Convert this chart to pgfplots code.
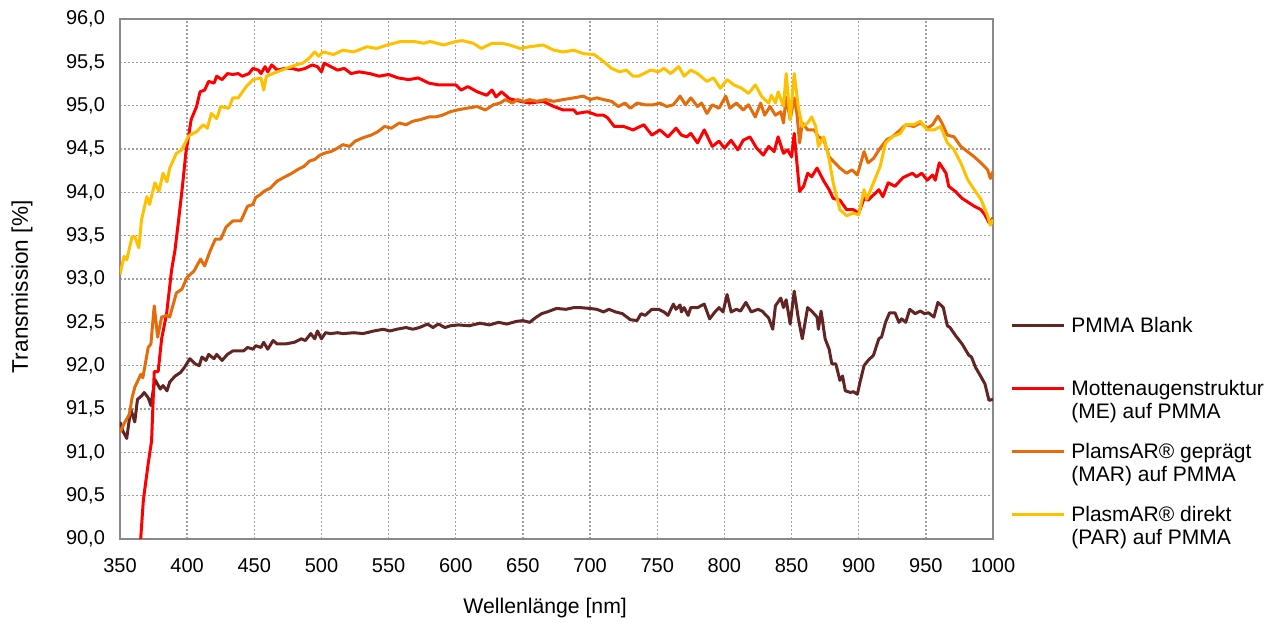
\documentclass[border=0pt]{standalone}
\usepackage{fontspec}
\setmainfont{Liberation Sans}
\usepackage{pgfplots}
\pgfplotsset{compat=1.18}
\definecolor{cBlank}{HTML}{632523}
\definecolor{cME}{HTML}{FF0000}
\definecolor{cMAR}{HTML}{E46C0A}
\definecolor{cPAR}{HTML}{FFC000}
\definecolor{cFrame}{HTML}{898989}
\definecolor{cGrid}{HTML}{9F9F9F}
\newcommand\lstrut{\rule[-3.45pt]{0pt}{11.5pt}}
\newcommand\lentry[2]{\parbox[t]{110pt}{\fontsize{10.5}{11.5}\selectfont #1\lstrut\\#2\lstrut}}
\begin{document}
\begin{tikzpicture}
\begin{axis}[
  scale only axis,
  width=436.5pt, height=260pt,
  xmin=350, xmax=1000, ymin=90, ymax=96,
  xtick distance=50, ytick distance=0.5,
  grid=major,
  major grid style={cGrid, line width=0.7pt, dash pattern=on 1pt off 1pt},
  axis line style={cFrame, line width=1pt},
  major tick length=0pt,
  tick label style={font=\fontsize{10}{12}\selectfont},
  /pgf/number format/assume math mode=true,
  x tick label style={/pgf/number format/1000 sep={}},
  y tick label style={/pgf/number format/.cd, fixed, fixed zerofill, precision=1, use comma},
  xticklabel shift=6pt,
  yticklabel shift=4pt,
  xlabel={Wellenlänge [nm]},
  ylabel={Transmission [\%]},
  every axis x label/.style={at={([yshift=-34.5pt]axis description cs:0.487,0)}, anchor=center,
    font=\fontsize{10.6}{12}\selectfont},
  every axis y label/.style={at={([xshift=-49pt]axis description cs:0,0.485)}, anchor=center, rotate=90,
    font=\fontsize{11.3}{13}\selectfont},
  clip=true,
  legend style={at={(1,1)}, anchor=north west, xshift=8.5pt, yshift=-148.45pt,
    draw=none, fill=none, inner sep=0pt, row sep=22pt, column sep=3pt,
    nodes={inner sep=0pt}},
  legend cell align=left,
  legend style={cells={anchor=base west}},
  legend image code/.code={\draw[#1] (0pt,3.5pt) -- (26pt,3.5pt);},
  every axis plot/.append style={line width=1.5pt, line join=round},
]
% PMMA Blank
\addplot[cBlank] coordinates {
(350,91.35)(352,91.25)(355,91.16)(358,91.50)(361,91.35)(363,91.61)(366,91.65)(368,91.69)
(371,91.63)(373,91.54)(376,91.84)(380,91.73)(382,91.77)(385,91.71)(387,91.81)(391,91.88)
(395,91.92)(398,91.98)(402,92.08)(406,92.02)(409,92.00)(411,92.10)(414,92.06)(416,92.13)
(420,92.08)(422,92.13)(426,92.06)(430,92.13)(434,92.17)(439,92.17)(442,92.17)(445,92.21)
(449,92.19)(451,92.23)(455,92.21)(457,92.27)(460,92.19)(464,92.29)(467,92.25)(473,92.25)
(480,92.27)(485,92.31)(488,92.29)(492,92.37)(495,92.31)(497,92.40)(500,92.31)(503,92.38)
(507,92.37)(512,92.38)(516,92.37)(524,92.38)(531,92.37)(539,92.40)(546,92.42)(551,92.40)
(556,92.42)(563,92.44)(568,92.42)(573,92.44)(579,92.48)(583,92.44)(587,92.48)(592,92.44)
(596,92.46)(602,92.47)(610,92.46)(618,92.49)(625,92.47)(632,92.50)(638,92.48)(645,92.51)
(650,92.52)(655,92.50)(660,92.56)(664,92.60)(668,92.62)(675,92.66)(682,92.65)(688,92.67)
(692.5,92.67)(700,92.66)(705,92.65)(710,92.62)(714,92.65)(719,92.62)(724,92.60)(730,92.53)
(735,92.52)(738,92.60)(741,92.58)(746,92.65)(751,92.65)(755,92.62)(758,92.58)(762,92.71)
(764,92.65)(767,92.70)(768,92.62)(770,92.67)(773,92.58)(775,92.67)(780,92.67)(785,92.71)
(789,92.54)(793,92.62)(796,92.67)(799,92.62)(802,92.82)(805,92.62)(809,92.65)(812,92.63)
(816,92.73)(820,92.62)(825,92.65)(828,92.63)(833,92.55)(836,92.42)(838,92.69)(842,92.78)
(844,92.67)(846,92.76)(849,92.48)(852,92.86)(855,92.55)(858,92.31)(862,92.67)(865,92.63)
(869,92.56)(870,92.42)(872,92.63)(875,92.31)(878,92.19)(880,92.02)(883,92.02)(886,91.83)
(888,91.88)(890,91.71)(894,91.69)(896,91.70)(899,91.67)(901,91.81)(904,92.00)(907,92.06)
(911,92.12)(915,92.31)(917,92.33)(920,92.50)(923,92.61)(927,92.61)(930,92.50)(932,92.54)
(935,92.50)(938,92.65)(942,92.60)(946,92.63)(949,92.60)(952,92.61)(956,92.56)(959,92.73)
(963,92.67)(966,92.46)(968,92.44)(972,92.35)(977,92.25)(982,92.12)(984,92.10)(987,91.98)
(990,91.90)(994,91.79)(997,91.60)(1000,91.61)
};
\addlegendentry{\lentry{PMMA Blank}{\mbox{}}}
% ME
\addplot[cME] coordinates {
(364.5,89.8)(367.4,90.45)(371,90.87)(373.5,91.13)(375.5,91.93)(378.4,91.93)(381,92.31)
(384.7,92.60)(388.4,93.10)(391,93.34)(393.4,93.65)(396.5,94.07)(399,94.45)(403,94.84)
(407,94.99)(409.6,95.16)(413,95.18)(416,95.28)(420,95.26)(422,95.34)(426,95.30)(430,95.37)
(434,95.36)(438,95.37)(441,95.34)(446,95.37)(449,95.43)(453,95.41)(455,95.37)(458,95.45)
(460,95.39)(463,95.47)(467,95.41)(473,95.43)(478,95.43)(483,95.41)(488,95.43)(493,95.47)
(497,95.45)(500,95.39)(502,95.49)(507,95.45)(512,95.41)(517,95.43)(522,95.37)(528,95.39)
(536,95.37)(543,95.34)(550,95.36)(557,95.32)(565,95.30)(572,95.32)(580,95.26)(587,95.24)
(591,95.24)(600,95.24)(604,95.18)(609,95.22)(616,95.16)(623,95.12)(627,95.18)(630,95.10)
(634,95.16)(640,95.08)(648,95.05)(655,95.03)(665,95.05)(673,94.99)(680,94.95)(688,94.95)
(690,94.91)(698,94.93)(705,94.89)(710,94.89)(713,94.86)(718,94.76)(725,94.76)(732,94.72)
(740,94.78)(746,94.66)(752,94.72)(758,94.64)(764,94.74)(768,94.66)(772,94.64)(775,94.68)
(780,94.57)(785,94.72)(791,94.53)(796,94.59)(800,94.51)(805,94.60)(810,94.49)(814,94.60)
(819,94.64)(824,94.51)(829,94.43)(833,94.53)(837,94.47)(840,94.64)(844,94.45)(847,94.49)
(850,94.41)(852,94.68)(854,94.34)(856,94.01)(859,94.07)(862,94.22)(865,94.18)(869,94.28)
(871,94.22)(874,94.13)(878,94.03)(881,93.93)(886,93.91)(891,93.80)(896,93.80)(900,93.76)
(904,93.93)(907,93.91)(911,93.97)(915,94.03)(918,93.95)(922,94.11)(927,94.07)(933,94.17)
(940,94.22)(943,94.18)(947,94.22)(951,94.14)(955,94.20)(957,94.14)(960,94.34)(965,94.22)
(967,94.07)(972,94.01)(977,93.93)(981,93.89)(986,93.84)(991,93.80)(994,93.74)(997,93.65)
(1000,93.70)
};
\addlegendentry{\lentry{Mottenaugenstruktur}{(ME) auf PMMA}}
% MAR
\addplot[cMAR] coordinates {
(350,91.23)(353,91.33)(357,91.44)(359,91.63)(361,91.75)(365.5,91.90)(367,91.86)(371,92.21)
(373,92.25)(375.5,92.69)(378,92.33)(381,92.56)(385,92.58)(387,92.56)(392,92.84)(396,92.88)
(400,93.02)(405,93.09)(410,93.23)(413,93.15)(417,93.32)(421,93.46)(425,93.46)(429,93.60)
(434,93.67)(440,93.67)(445,93.84)(449,93.86)(451,93.94)(455,93.98)(457,94.01)(462,94.05)
(467,94.13)(473,94.18)(478,94.22)(482,94.26)(487,94.30)(491,94.36)(495,94.38)(499,94.43)
(502,94.45)(507,94.47)(512,94.51)(516,94.55)(521,94.53)(525,94.59)(531,94.63)(537,94.66)
(542,94.70)(547,94.76)(552,94.74)(558,94.80)(563,94.78)(568,94.82)(574,94.84)(580,94.87)
(585,94.87)(590,94.89)(596,94.93)(601,94.95)(608,94.97)(616,94.99)(622,94.95)(628,95.01)
(633,95.03)(637,95.07)(642,95.03)(646,95.07)(651,95.05)(655,95.07)(660,95.05)(667,95.07)
(673,95.05)(680,95.07)(688,95.09)(695,95.11)(700,95.07)(705,95.09)(710,95.07)(716,95.05)
(721,94.99)(726,95.03)(730,94.97)(735,95.03)(741,95.01)(747,95.01)(752,95.03)(757,94.99)
(762,95.01)(767,95.11)(771,95.01)(775,95.09)(780,94.99)(783,95.03)(787,94.91)(791,95.01)
(796,94.97)(801,95.11)(804,94.97)(809,95.03)(814,94.95)(818,95.01)(823,94.87)(827,95.03)
(830,94.89)(834,94.99)(838,94.89)(842,94.93)(844,94.80)(846,95.10)(849,94.84)(852,95.09)
(854,94.91)(856,94.57)(858,94.80)(862,94.72)(867,94.72)(870,94.64)(874,94.61)(878,94.41)
(881,94.36)(886,94.28)(891,94.22)(895,94.26)(899,94.20)(904,94.47)(907,94.34)(911,94.39)
(916,94.51)(921,94.61)(925,94.64)(931,94.72)(935,94.78)(941,94.76)(946,94.80)(951,94.74)
(955,94.78)(959,94.88)(962,94.80)(966,94.66)(971,94.64)(976,94.53)(981,94.47)(986,94.41)
(991,94.34)(996,94.26)(998,94.16)(1000,94.24)
};
\addlegendentry{\lentry{PlamsAR® geprägt}{(MAR) auf PMMA}}
% PAR
\addplot[cPAR] coordinates {
(350,93.05)(353,93.26)(355,93.22)(359,93.49)(361,93.49)(364,93.36)(366,93.68)(370,93.95)
(372,93.86)(376,94.11)(379,94.01)(382,94.22)(385,94.12)(387,94.28)(392,94.45)(396,94.49)
(401,94.65)(407,94.70)(412,94.78)(415,94.74)(418,94.91)(422,94.85)(425,94.99)(431,94.97)
(434,95.09)(438,95.09)(444,95.22)(449,95.30)(455,95.32)(457,95.18)(459,95.34)(467,95.39)
(474,95.43)(481,95.47)(486,95.49)(491,95.55)(495,95.62)(498,95.57)(501,95.62)(509,95.59)
(516,95.64)(524,95.62)(534,95.68)(541,95.66)(549,95.70)(559,95.74)(569,95.74)(576,95.72)
(581,95.74)(591,95.70)(600,95.74)(605,95.75)(613,95.72)(619,95.66)(627,95.72)(634,95.72)
(640,95.70)(648,95.66)(655,95.68)(665,95.70)(673,95.64)(680,95.62)(688,95.64)(695,95.60)
(703,95.59)(710,95.51)(716,95.43)(722,95.39)(727,95.41)(732,95.34)(736,95.34)(740,95.37)
(745,95.41)(751,95.39)(755,95.43)(760,95.37)(766,95.45)(770,95.34)(775,95.41)(780,95.37)
(787,95.28)(792,95.32)(797,95.20)(802,95.30)(807,95.24)(813,95.20)(818,95.14)(823,95.24)
(828,95.10)(833,95.03)(835,95.12)(838,95.03)(840,95.16)(844,94.99)(846,95.37)(849,94.84)
(852,95.37)(855,94.99)(858,94.76)(862,94.80)(865,94.87)(868,94.76)(870,94.53)(874,94.64)
(878,94.38)(881,94.11)(886,93.80)(891,93.73)(896,93.76)(900,93.74)(904,94.03)(906,93.92)
(911,94.11)(916,94.30)(920,94.57)(925,94.64)(931,94.68)(935,94.78)(941,94.78)(946,94.82)
(951,94.72)(956,94.72)(961,94.76)(966,94.57)(971,94.49)(976,94.34)(981,94.15)(986,94.03)
(991,93.92)(996,93.73)(998,93.62)(1000,93.69)
};
\addlegendentry{\lentry{PlasmAR® direkt}{(PAR) auf PMMA}}
\end{axis}
\pgfresetboundingbox
\path ([xshift=-60pt,yshift=-43.5pt]current axis.south west) rectangle ([xshift=142pt,yshift=9.5pt]current axis.north east);
\end{tikzpicture}
\end{document}
